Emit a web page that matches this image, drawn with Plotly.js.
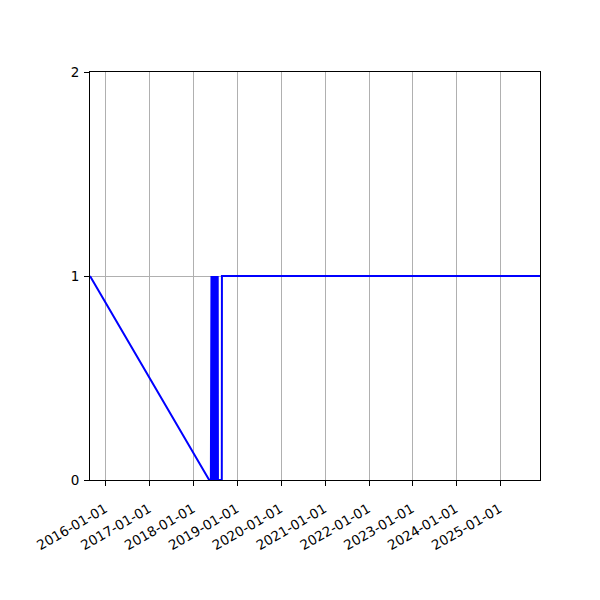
<!DOCTYPE html>
<html>
<head>
<meta charset="utf-8">
<script src="https://cdn.plot.ly/plotly-3.0.1.min.js"></script>
<style>html,body{margin:0;padding:0;background:#fff;}#chart{width:600px;height:600px;}</style>
</head>
<body>
<div id="chart"></div>
<script>
const dates = [
  "2015-08-21", "2018-05-10", "2018-05-24",
  "2018-05-25", "2018-05-27", "2018-05-29", "2018-05-31", "2018-06-02",
  "2018-06-04", "2018-06-06", "2018-06-08", "2018-06-10", "2018-06-12",
  "2018-06-14", "2018-06-16", "2018-06-18", "2018-06-20", "2018-06-22",
  "2018-06-24", "2018-06-26", "2018-06-28", "2018-06-30", "2018-07-02",
  "2018-07-04", "2018-07-06", "2018-07-08", "2018-07-10", "2018-07-12",
  "2018-07-14", "2018-07-16", "2018-07-18", "2018-07-20", "2018-07-22",
  "2018-08-23", "2018-08-24", "2025-11-25"
];
const values = [
  1, 0, 0,
  1, 0, 1, 0, 1,
  0, 1, 0, 1, 0,
  1, 0, 1, 0, 1,
  0, 1, 0, 1, 0,
  1, 0, 1, 0, 1,
  0, 1, 0, 1, 0,
  0, 1, 1
];
const yTicks = [0, 1, 2];

const axisCommon = {
  showline: true, linecolor: "#000", linewidth: 1, mirror: true,
  ticks: "outside", ticklen: 5, tickwidth: 1, tickcolor: "#000",
  showgrid: true, gridcolor: "#b0b0b0", gridwidth: 1,
  zeroline: false,
  tickfont: {family: "DejaVu Sans", size: 13.5, color: "#000"}
};

Plotly.newPlot("chart", [{
  x: dates, y: values, type: "scatter", mode: "lines",
  line: {color: "#0000ff", width: 2}
}], {
  width: 600, height: 600,
  margin: {l: 90, r: 60, t: 72, b: 120},
  paper_bgcolor: "#fff", plot_bgcolor: "#fff",
  showlegend: false,
  xaxis: Object.assign({}, axisCommon, {
    type: "date", range: [dates[0], dates[dates.length - 1]],
    tick0: "2016-01-01", dtick: "M12", tickformat: "%Y-%m-%d", tickangle: -30,
    ticklabelstandoff: 10, ticklabelshift: -1
  }),
  yaxis: Object.assign({}, axisCommon, {
    range: [0, 2], tickvals: yTicks, ticktext: yTicks.map(String),
    ticklabelstandoff: 2
  })
}, {displayModeBar: false, staticPlot: true});
</script>
</body>
</html>
